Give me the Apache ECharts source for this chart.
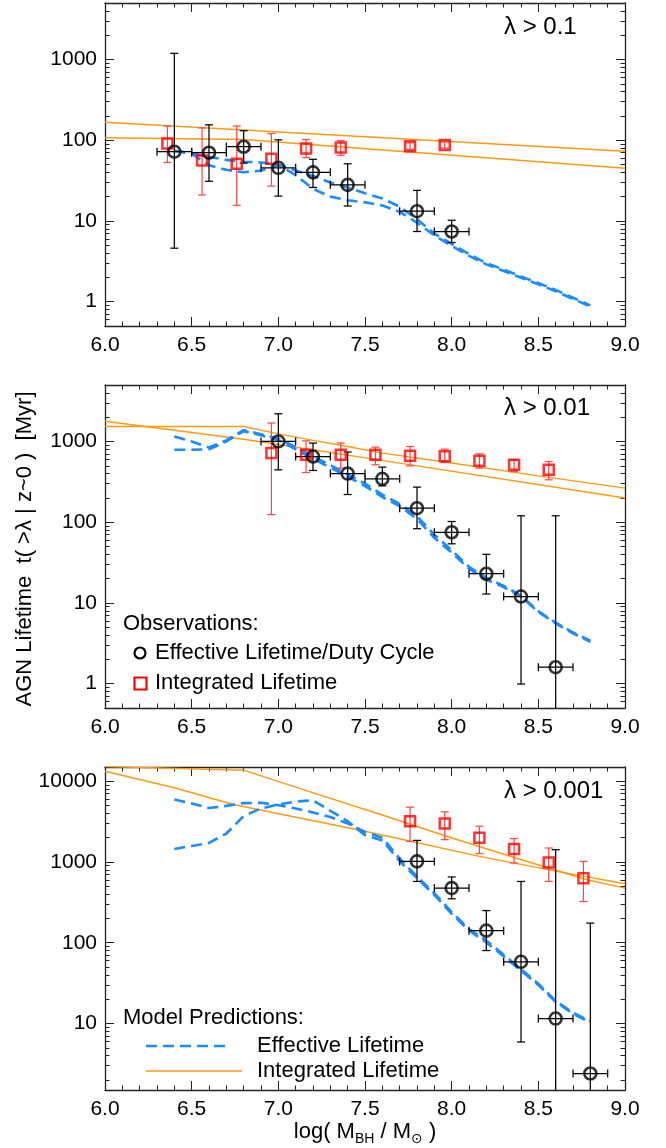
<!DOCTYPE html>
<html><head><meta charset="utf-8">
<script src="https://cdn.jsdelivr.net/npm/echarts@6/dist/echarts.min.js"></script>
<style>html,body{margin:0;padding:0;background:#fff}#c{width:666px;height:1148px}</style>
</head><body><div id="c"></div>
<script>
// ================= DATA =================
const lambdaLabels = ['λ > 0.1', 'λ > 0.01', 'λ > 0.001'];
const yRanges = [[0.5, 5000], [0.5, 5000], [1.5, 15000]];
const yTickLabelValues = [[1, 10, 100, 1000], [1, 10, 100, 1000], [10, 100, 1000, 10000]];
const xRange = [6.0, 9.0];
const xLabelStep = 0.5;
const effXErr = 0.1;

// Panel 1 (lambda > 0.1) observations
const p1EffX  = [6.4, 6.6, 6.8, 7.0, 7.2, 7.4, 7.8, 8.0];
const p1EffY  = [72, 70, 83, 45.5, 40, 28, 13.2, 7.4];
const p1EffLo = [4.6, 31, 52, 20.3, 26, 15.3, 7.4, 5.4];
const p1EffHi = [1190, 155, 131, 101, 58, 51, 23.9, 10.2];
const p1IntX  = [6.36, 6.56, 6.76, 6.96, 7.16, 7.36, 7.76, 7.96];
const p1IntY  = [91, 56, 51, 59, 79, 81, 84, 87];
const p1IntLo = [53, 21, 15.6, 27, 61, 65, 77, 80];
const p1IntHi = [150, 142, 150, 121, 102, 99, 93, 95];

// Panel 2 (lambda > 0.01) observations
const p2EffX  = [7.0, 7.2, 7.4, 7.6, 7.8, 8.0, 8.2, 8.4, 8.6];
const p2EffY  = [1000, 650, 400, 344, 149, 75, 23, 12, 1.6];
const p2EffLo = [445, 437, 220, 282, 83, 54, 12.9, 0.99, 0.1];
const p2EffHi = [2200, 955, 740, 481, 272, 102, 40, 120, 120];
const p2IntX  = [6.96, 7.16, 7.36, 7.56, 7.76, 7.96, 8.16, 8.36, 8.56];
const p2IntY  = [717, 683, 683, 683, 664, 656, 575, 513, 445];
const p2IntLo = [124, 412, 468, 514, 499, 548, 468, 424, 335];
const p2IntHi = [1690, 1017, 955, 850, 865, 803, 703, 592, 564];

// Panel 3 (lambda > 0.001) observations
const p3EffX  = [7.8, 8.0, 8.2, 8.4, 8.6, 8.8];
const p3EffY  = [1016, 475, 141, 58, 11.5, 2.4];
const p3EffLo = [574, 350, 80, 5.9, 0.1, 0.1];
const p3EffHi = [1850, 652, 250, 574, 1420, 175];
const p3IntX  = [7.76, 7.96, 8.16, 8.36, 8.56, 8.76];
const p3IntY  = [3190, 2990, 1990, 1450, 988, 630];
const p3IntLo = [1800, 1890, 1270, 973, 574, 324];
const p3IntHi = [4770, 4180, 2770, 1950, 1490, 1016];

// Model predictions: effective lifetime (dashed, two curves per panel)
const modelX = [6.4, 6.5, 6.6, 6.7, 6.8, 6.9, 7.0, 7.1, 7.2, 7.3, 7.4, 7.5, 7.6, 7.7, 7.8, 7.9, 8.0, 8.1, 8.2, 8.3, 8.4, 8.5, 8.6, 8.7, 8.8];
const p1ModelA = [74, 69, 62, 57, 54, 53, 50, 42, 36, 30, 26, 22, 19, 15, 10.5, 7, 5.2, 3.9, 3.0, 2.5, 2.05, 1.7, 1.4, 1.12, 0.9];
const p1ModelB = [74, 68, 49, 43, 40, 42, 49, 37, 25, 20, 18, 17, 15.5, 13, 9.5, 6.6, 4.9, 3.7, 2.9, 2.4, 1.98, 1.64, 1.35, 1.08, 0.87];
const p2ModelA = [1150, 1000, 840, 1030, 1380, 1230, 1080, 850, 650, 510, 390, 300, 220, 168, 118, 70, 45, 28, 20.5, 16.3, 12.3, 7.9, 5.7, 4.3, 3.4];
const p2ModelB = [790, 790, 800, 1000, 1340, 1190, 1040, 800, 610, 475, 365, 280, 205, 158, 110, 64, 42, 26.5, 19.5, 15.7, 12, 7.7, 5.6, 4.2, 3.3];
const p3ModelA = [5950, 5300, 4650, 4950, 5350, 5400, 5050, 4600, 4100, 3600, 3000, 2350, 2000, 1100, 660, 410, 240, 148, 106, 71, 47, 31, 19, 13.6, 10.6];
const p3ModelB = [1450, 1580, 1720, 2250, 3700, 4600, 5150, 5600, 5800, 4300, 3200, 2150, 1850, 1020, 630, 390, 228, 142, 101, 68, 45, 30, 18.5, 13.2, 10.3];

// Model predictions: integrated lifetime (solid orange, two lines per panel)
const p1IntLineAX = [6.0, 9.0];
const p1IntLineAY = [167, 73];
const p1IntLineBX = [6.0, 6.8, 9.0];
const p1IntLineBY = [107, 102, 45];
const p2IntLineAX = [6.0, 6.8, 7.55, 9.0];
const p2IntLineAY = [1780, 1065, 604, 199];
const p2IntLineBX = [6.0, 6.8, 7.0, 7.2, 7.4, 7.6, 8.0, 8.5, 9.0];
const p2IntLineBY = [1530, 1530, 1240, 1030, 865, 716, 540, 375, 264];
const p3IntLineAX = [6.0, 6.4, 6.74, 7.5, 8.16, 8.6, 9.0];
const p3IntLineAY = [13300, 8300, 5150, 2400, 1175, 770, 537];
const p3IntLineBX = [6.0, 6.8, 7.17, 7.59, 7.97, 8.37, 8.78, 9.0];
const p3IntLineBY = [15200, 13700, 7530, 3870, 2080, 1120, 603, 475];

// ================= LAYOUT / STYLE =================
const FONT = "'Liberation Sans', Arial, 'DejaVu Sans', sans-serif";
const TICK_FS = 21, TEXT_FS = 22, LAMBDA_FS = 24;
const GRID_LEFT = 105, GRID_RIGHT = 41, GRID_H = 323;
const GRID_TOPS = [3, 385, 767];
const AXIS_COLOR = '#222';
const BLUE = '#1a8cff', ORANGE = '#ff9a10', RED = '#ff0000', RED_ERR = '#ff4a4a';

const panels = [
  {eff: [p1EffX, p1EffY, p1EffLo, p1EffHi], int: [p1IntX, p1IntY, p1IntLo, p1IntHi],
   model: [p1ModelA, p1ModelB], lines: [[p1IntLineAX, p1IntLineAY], [p1IntLineBX, p1IntLineBY]]},
  {eff: [p2EffX, p2EffY, p2EffLo, p2EffHi], int: [p2IntX, p2IntY, p2IntLo, p2IntHi],
   model: [p2ModelA, p2ModelB], lines: [[p2IntLineAX, p2IntLineAY], [p2IntLineBX, p2IntLineBY]]},
  {eff: [p3EffX, p3EffY, p3EffLo, p3EffHi], int: [p3IntX, p3IntY, p3IntLo, p3IntHi],
   model: [p3ModelA, p3ModelB], lines: [[p3IntLineAX, p3IntLineAY], [p3IntLineBX, p3IntLineBY]]}
];

function zip(xs, ys) { return xs.map((x, k) => [x, ys[k]]); }

function minorLogs(lo, hi) {
  const out = [];
  for (let d = Math.floor(Math.log10(lo)); d <= Math.ceil(Math.log10(hi)); d++) {
    for (let m = 2; m <= 9; m++) {
      const v = Math.log10(m) + d;
      if (v > Math.log10(lo) + 1e-9 && v < Math.log10(hi) - 1e-9) out.push(v);
    }
  }
  return out;
}

const grids = [], xAxes = [], yAxes = [], series = [];
panels.forEach((p, i) => {
  grids.push({left: GRID_LEFT, right: GRID_RIGHT, top: GRID_TOPS[i], height: GRID_H, containLabel: false});
  const lineSt = {show: true, onZero: false, lineStyle: {color: AXIS_COLOR, width: 1.3}};
  ['bottom', 'top'].forEach((pos, j) => {
    xAxes.push({
      type: 'value', gridIndex: i, position: pos, min: xRange[0], max: xRange[1], interval: xLabelStep,
      axisLine: lineSt,
      axisTick: {show: true, inside: true, length: 9, lineStyle: {color: AXIS_COLOR, width: 1}},
      minorTick: {show: true, splitNumber: 5, length: 4.5, lineStyle: {color: AXIS_COLOR, width: 1}},
      axisLabel: {show: j === 0, margin: 9, fontSize: TICK_FS, fontFamily: FONT, color: '#000',
                  formatter: v => v.toFixed(1)},
      splitLine: {show: false}, minorSplitLine: {show: false}
    });
  });
  const [lo, hi] = yRanges[i];
  const majors = yTickLabelValues[i].map(v => Math.log10(v));
  const minors = minorLogs(lo, hi);
  // data axis (log scale) used by all series
  yAxes.push({type: 'log', logBase: 10, gridIndex: i, min: lo, max: hi, show: false,
              axisLine: {show: false, onZero: false}, splitLine: {show: false}});
  // tick axes
  ['left', 'right'].forEach(pos => {
    yAxes.push({
      type: 'value', gridIndex: i, position: pos, min: Math.log10(lo), max: Math.log10(hi),
      axisLine: lineSt,
      axisTick: {show: true, inside: true, length: 9, customValues: majors, lineStyle: {color: AXIS_COLOR, width: 1}},
      axisLabel: {show: pos === 'left', customValues: majors, margin: 8, fontSize: TICK_FS, fontFamily: FONT, color: '#000',
                  formatter: v => String(Math.round(Math.pow(10, v)))},
      splitLine: {show: false}
    });
    yAxes.push({
      type: 'value', gridIndex: i, position: pos, min: Math.log10(lo), max: Math.log10(hi),
      axisLine: {show: false, onZero: false},
      axisTick: {show: true, inside: true, length: 4.5, customValues: minors, lineStyle: {color: AXIS_COLOR, width: 1}},
      axisLabel: {show: false},
      splitLine: {show: false}
    });
  });

  const xi = 2 * i, yi = 5 * i;
  // integrated lifetime model lines
  p.lines.forEach(([lx, ly]) => series.push({
    type: 'line', xAxisIndex: xi, yAxisIndex: yi, data: zip(lx, ly), showSymbol: false, symbol: 'none',
    lineStyle: {color: ORANGE, width: 1.4}, z: 2, silent: true, clip: true
  }));
  // effective lifetime model curves
  p.model.forEach(my => series.push({
    type: 'line', xAxisIndex: xi, yAxisIndex: yi, data: zip(modelX, my), showSymbol: false, symbol: 'none',
    lineStyle: {color: BLUE, width: 2.6, type: [11, 6]}, z: 2, silent: true, clip: true
  }));
  // error bars
  const errSeries = (arr, xerr, color) => ({
    type: 'custom', xAxisIndex: xi, yAxisIndex: yi, clip: true, silent: true, z: 3,
    data: arr[0].map((x, k) => [x, arr[1][k], arr[2][k], arr[3][k], xerr]),
    renderItem: (params, api) => {
      const x = api.value(0), y = api.value(1), l = api.value(2), h = api.value(3), e = api.value(4);
      const pl = api.coord([x, l]), ph = api.coord([x, h]);
      const st = {stroke: color, lineWidth: 1.25, fill: null};
      const cap = 4;
      const ch = [
        {type: 'line', shape: {x1: pl[0], y1: pl[1], x2: ph[0], y2: ph[1]}, style: st},
        {type: 'line', shape: {x1: pl[0] - cap, y1: pl[1], x2: pl[0] + cap, y2: pl[1]}, style: st},
        {type: 'line', shape: {x1: ph[0] - cap, y1: ph[1], x2: ph[0] + cap, y2: ph[1]}, style: st}
      ];
      if (e > 0) {
        const a = api.coord([x - e, y]), b = api.coord([x + e, y]);
        ch.push({type: 'line', shape: {x1: a[0], y1: a[1], x2: b[0], y2: b[1]}, style: st});
        ch.push({type: 'line', shape: {x1: a[0], y1: a[1] - cap, x2: a[0], y2: a[1] + cap}, style: st});
        ch.push({type: 'line', shape: {x1: b[0], y1: b[1] - cap, x2: b[0], y2: b[1] + cap}, style: st});
      }
      return {type: 'group', children: ch};
    }
  });
  series.push(errSeries(p.int, 0, RED_ERR));
  series.push(errSeries(p.eff, effXErr, '#000'));
  series.push({
    type: 'scatter', xAxisIndex: xi, yAxisIndex: yi, data: zip(p.int[0], p.int[1]), symbol: 'rect', symbolSize: 10,
    itemStyle: {color: 'rgba(0,0,0,0)', borderColor: RED, borderWidth: 2.5}, z: 4, silent: true
  });
  series.push({
    type: 'scatter', xAxisIndex: xi, yAxisIndex: yi, data: zip(p.eff[0], p.eff[1]), symbol: 'circle', symbolSize: 12,
    itemStyle: {color: 'rgba(0,0,0,0)', borderColor: '#000', borderWidth: 2.6}, z: 5, silent: true
  });
});

const txt = (x, y, text, fs) => ({
  type: 'text', x: x, y: y, silent: true,
  style: {text: text, fontSize: fs || TEXT_FS, fontFamily: FONT, fill: '#000', align: 'left', verticalAlign: 'middle'}
});

const graphic = [
  txt(504, 27, lambdaLabels[0], LAMBDA_FS),
  txt(504, 408, lambdaLabels[1], LAMBDA_FS),
  txt(504, 791, lambdaLabels[2], LAMBDA_FS),
  // y-axis title
  {type: 'text', x: 25, y: 549, rotation: Math.PI / 2, silent: true,
   style: {text: 'AGN Lifetime  t( >λ | z~0 )  [Myr]', fontSize: TEXT_FS, fontFamily: FONT, fill: '#000',
           align: 'center', verticalAlign: 'middle'}},
  // x-axis title
  {type: 'text', x: 365, y: 1132, silent: true,
   style: {text: '{a|log( M}{s|BH}{a| / M}{s|⊙}{a| )}', align: 'center', verticalAlign: 'middle',
           rich: {a: {fontSize: TEXT_FS, fontFamily: FONT, fill: '#000', lineHeight: 28},
                  s: {fontSize: 14, fontFamily: FONT, fill: '#000', lineHeight: 15, verticalAlign: 'bottom'}}}},
  // observations legend
  txt(123, 624, 'Observations:'),
  {type: 'circle', shape: {cx: 140, cy: 653, r: 5.5}, silent: true,
   style: {fill: 'rgba(0,0,0,0)', stroke: '#000', lineWidth: 2.2}},
  txt(155, 653, 'Effective Lifetime/Duty Cycle'),
  {type: 'rect', shape: {x: 134.5, y: 677.5, width: 12, height: 12}, silent: true,
   style: {fill: 'rgba(0,0,0,0)', stroke: RED, lineWidth: 2.2}},
  txt(155, 683, 'Integrated Lifetime'),
  // model legend
  txt(123, 1018, 'Model Predictions:'),
  {type: 'line', shape: {x1: 146, y1: 1046, x2: 231, y2: 1046}, silent: true,
   style: {stroke: BLUE, lineWidth: 2.6, lineDash: [11, 6]}},
  txt(257, 1046, 'Effective Lifetime'),
  {type: 'line', shape: {x1: 146, y1: 1071, x2: 242, y2: 1071}, silent: true,
   style: {stroke: ORANGE, lineWidth: 1.6}},
  txt(257, 1071, 'Integrated Lifetime')
];

const chart = echarts.init(document.getElementById('c'), null, {renderer: 'canvas'});
chart.setOption({
  animation: false,
  backgroundColor: '#fff',
  grid: grids, xAxis: xAxes, yAxis: yAxes, series: series, graphic: graphic
});
</script>
</body></html>
